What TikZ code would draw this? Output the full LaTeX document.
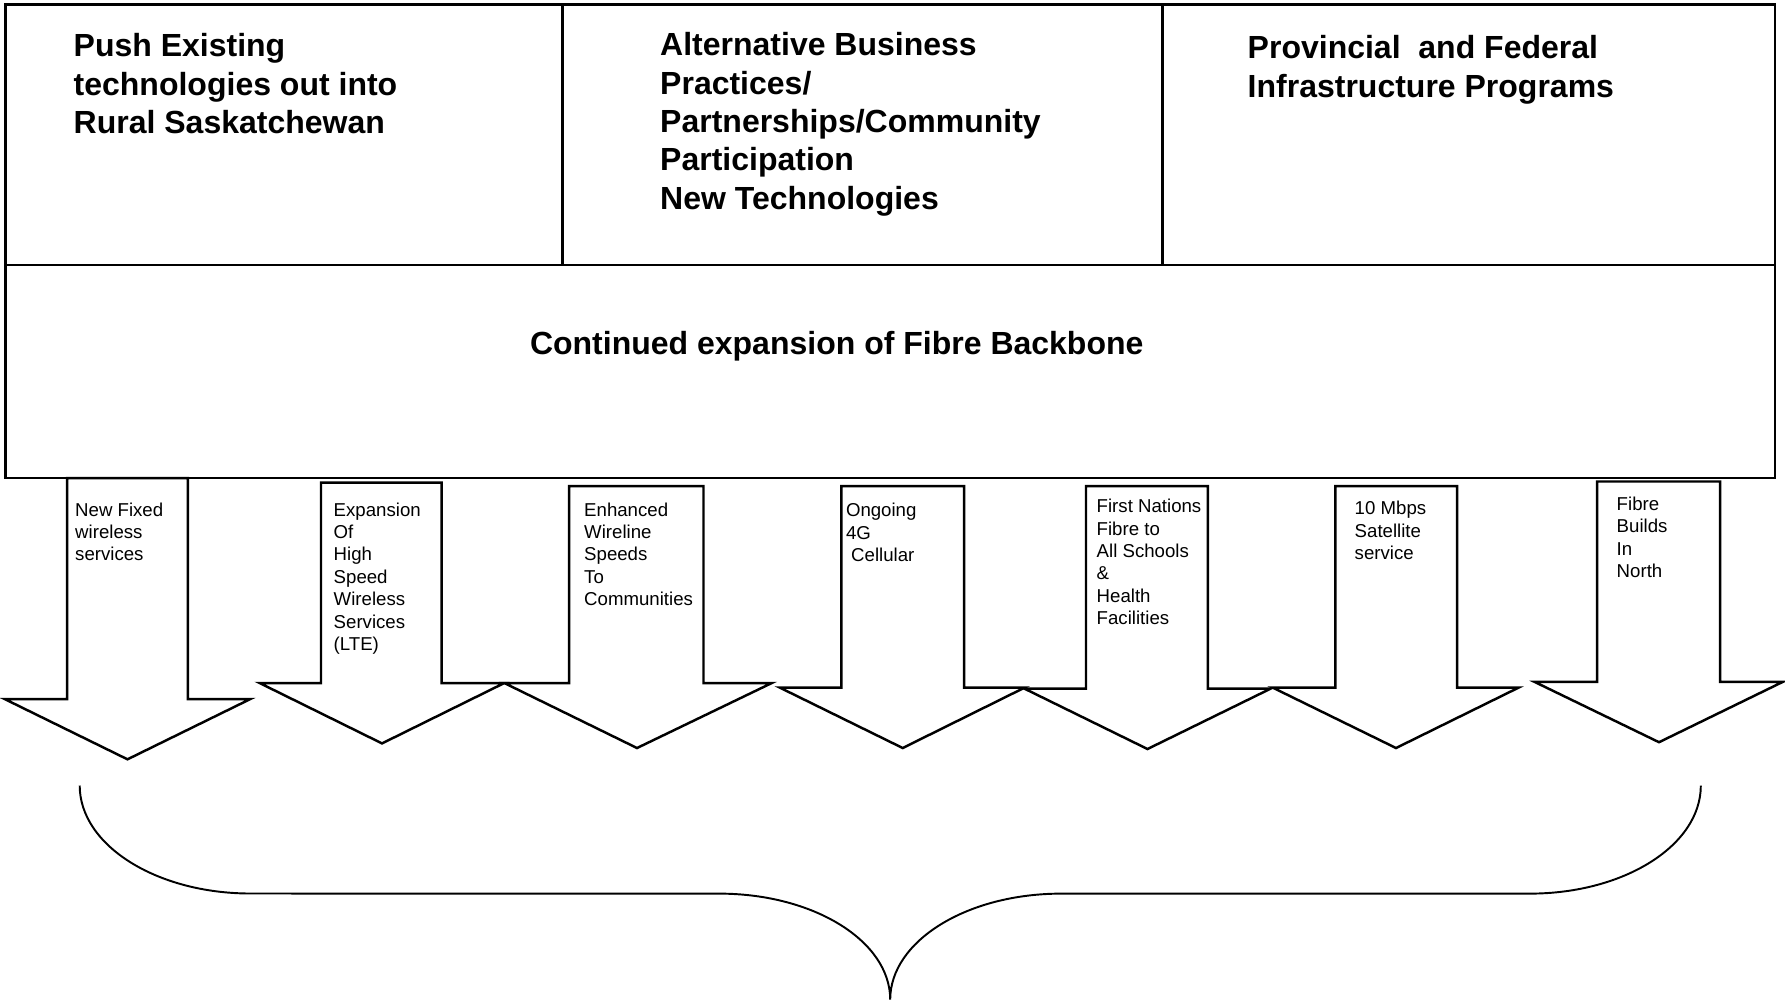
\documentclass[tikz,border=0pt]{standalone}
\usepackage{fontspec}
\setmainfont{Liberation Sans}

\tikzset{
    frame/.style={draw=black, line width=0.7pt},
    arm/.style={draw=black, fill=white, line width=0.7pt, line join=miter},
    brace/.style={draw=black, line width=0.55pt},
    headtxt/.style={anchor=north west, inner sep=0pt, align=left, font=\fontsize{9.1}{10.9}\selectfont\bfseries},
    armtxt/.style={anchor=north west, inner sep=0pt, align=left, font=\fontsize{5.3}{6.36}\selectfont}
}

\begin{document}
\begin{tikzpicture}[x=0.01cm,y=-0.01cm]
    \useasboundingbox (0,0) rectangle (1785,1002);

    % top row and backbone
    \draw[frame] (5.7,4.6) rectangle (1774.8,478.1);
    \draw[frame] (5.7,265.2) -- (1774.8,265.2);
    \draw[frame] (562.4,4.6) -- (562.4,265.2);
    \draw[frame] (1162.3,4.6) -- (1162.3,265.2);
    \node[headtxt] (push) at (73,33) {Push Existing\\technologies out into\\Rural Saskatchewan};
    \node[headtxt] (altbiz) at (659.5,32) {Alternative Business\\Practices/\\Partnerships/Community\\Participation\\New Technologies};
    \node[headtxt] (programs) at (1247,35) {Provincial\ \ and Federal\\Infrastructure Programs};
    \node[font=\fontsize{9.1}{10.9}\selectfont\bfseries, inner sep=0pt] (backbone) at (836.7,346.5) {Continued expansion of Fibre Backbone};

    % arrows
    \draw[arm] (67.2,478.1) -- (67.2,699) -- (4.6,699) -- (127.5,759.3) -- (250.4,699) -- (187.8,699) -- (187.8,478.1) -- cycle;
    \node[armtxt] (fixed) at (74.5,502) {New Fixed\\wireless\\services};

    \draw[arm] (321,482.7) -- (321,683) -- (259.6,683) -- (382,743.4) -- (504.3,683) -- (441.7,683) -- (441.7,482.7) -- cycle;
    \node[armtxt] (lte) at (333,502) {Expansion\\Of\\High\\Speed\\Wireless\\Services\\(LTE)};

    \draw[arm] (569.2,486.1) -- (569.2,683) -- (504.3,683) -- (637,748) -- (771.8,683) -- (703.5,683) -- (703.5,486.1) -- cycle;
    \node[armtxt] (wireline) at (583.5,502) {Enhanced\\Wireline\\Speeds\\To\\Communities};

    \draw[arm] (841.3,486.1) -- (841.3,687.6) -- (779.8,687.6) -- (902.7,748) -- (1024.6,687.6) -- (964.2,687.6) -- (964.2,486.1) -- cycle;
    \node[armtxt] (cellular) at (845.3,502.5) {Ongoing\\4G\\\ Cellular};

    \draw[arm] (1086,486.1) -- (1086,688.7) -- (1024.6,688.7) -- (1147.5,749) -- (1270.5,688.7) -- (1207.8,688.7) -- (1207.8,486.1) -- cycle;
    \node[armtxt] (nations) at (1096,498.5) {First Nations\\Fibre to\\All Schools\\\&\\Health\\Facilities};

    \draw[arm] (1335.3,486.1) -- (1335.3,687.6) -- (1272.7,687.6) -- (1396,748) -- (1518.6,687.6) -- (1457.2,687.6) -- (1457.2,486.1) -- cycle;
    \node[armtxt] (satellite) at (1354,500.7) {10 Mbps\\Satellite\\service};

    \draw[arm] (1597.2,481.5) -- (1597.2,681.9) -- (1534.6,681.9) -- (1659,742.2) -- (1782.7,681.9) -- (1720.1,681.9) -- (1720.1,481.5) -- cycle;
    \node[armtxt] (north) at (1616,496.2) {Fibre\\Builds\\In\\North};

    % brace
    \draw[brace] (79.7,785.5) arc[start angle=180, end angle=90, x radius=171, y radius=108]
        -- (719.2,893.6) arc[start angle=270, end angle=360, x radius=171, y radius=106]
        arc[start angle=180, end angle=270, x radius=171, y radius=106]
        -- (1529.8,893.6) arc[start angle=90, end angle=0, x radius=171, y radius=108];
\end{tikzpicture}
\end{document}
